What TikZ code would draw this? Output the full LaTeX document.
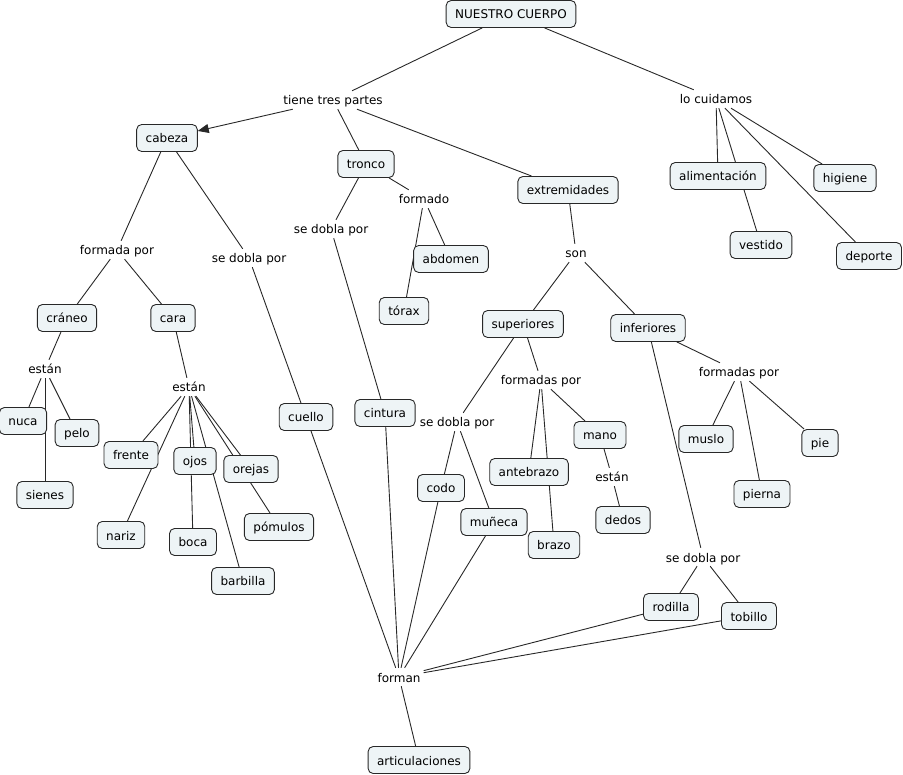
\documentclass[tikz,border=0pt]{standalone}
\usepackage{fontspec}
\setmainfont{DejaVu Sans}
\usetikzlibrary{arrows.meta,backgrounds}
\definecolor{CmapFill}{RGB}{238,244,246}
\definecolor{CmapLine}{RGB}{40,40,40}

\begin{document}
\begin{tikzpicture}[x=1pt, y=-1pt, font=\fontsize{12}{14}\selectfont,
  concept/.style={draw=CmapLine, fill=CmapFill, rounded corners=5pt, line width=0.9pt,
    inner xsep=9pt, inner ysep=0pt, minimum height=27pt, text height=11pt, text depth=1pt},
  linkph/.style={inner sep=3pt, text height=11pt, text depth=1pt},
  link/.style={CmapLine, line width=0.9pt}]
  \useasboundingbox (0,0) rectangle (903,775);

  % Main concept and first links
  \node[concept] (nc) at (511,14) {NUESTRO CUERPO};
  \node[linkph] (tiene) at (333,100) {tiene tres partes};
  \node[linkph] (cuidamos) at (716,99) {lo cuidamos};

  % Care
  \node[concept] (aliment) at (718,176) {alimentación};
  \node[concept] (higiene) at (845,178) {higiene};
  \node[concept] (vestido) at (761,245) {vestido};
  \node[concept] (deporte) at (869,256) {deporte};

  % Head
  \node[concept] (cabeza) at (167,138) {cabeza};
  \node[linkph] (formadaC) at (117,250) {formada por};
  \node[linkph] (doblaC) at (249,258) {se dobla por};
  \node[concept] (craneo) at (67,318) {cráneo};
  \node[concept] (cara) at (173,318) {cara};
  \node[linkph] (estanCr) at (45,369) {están};
  \node[linkph] (estanCa) at (189,387) {están};
  \node[concept] (nuca) at (23,421) {nuca};
  \node[concept] (pelo) at (77,433) {pelo};
  \node[concept] (sienes) at (45,495) {sienes};
  \node[concept] (frente) at (131,455) {frente};
  \node[concept] (ojos) at (195,461) {ojos};
  \node[concept] (orejas) at (251,469) {orejas};
  \node[concept] (nariz) at (121,535) {nariz};
  \node[concept] (boca) at (193,542) {boca};
  \node[concept] (pomulos) at (279,527) {pómulos};
  \node[concept] (barbilla) at (243,581) {barbilla};
  \node[concept] (cuello) at (306,417) {cuello};

  % Trunk
  \node[concept] (tronco) at (366,164) {tronco};
  \node[linkph] (formado) at (424,199) {formado};
  \node[linkph] (doblaT) at (331,229) {se dobla por};
  \node[concept] (abdomen) at (451,259) {abdomen};
  \node[concept] (torax) at (404,311) {tórax};
  \node[concept] (cintura) at (385,413) {cintura};

  % Limbs
  \node[concept] (extrem) at (568,190) {extremidades};
  \node[linkph] (son) at (576,253) {son};
  \node[concept] (superiores) at (523,324) {superiores};
  \node[concept] (inferiores) at (648,328) {inferiores};
  \node[linkph] (doblaS) at (457,422) {se dobla por};
  \node[linkph] (formadasS) at (541,380) {formadas por};
  \node[concept] (codo) at (441,488) {codo};
  \node[concept] (muneca) at (494,522) {muñeca};
  \node[concept] (antebrazo) at (529,472) {antebrazo};
  \node[concept] (brazo) at (554,545) {brazo};
  \node[concept] (mano) at (600,435) {mano};
  \node[linkph] (estanMa) at (612,477) {están};
  \node[concept] (dedos) at (623,520) {dedos};
  \node[linkph] (formadasI) at (739,372) {formadas por};
  \node[concept] (muslo) at (706,439) {muslo};
  \node[concept] (pie) at (820,443) {pie};
  \node[concept] (pierna) at (762,494) {pierna};
  \node[linkph] (doblaI) at (703,557) {se dobla por};
  \node[concept] (rodilla) at (671,607) {rodilla};
  \node[concept] (tobillo) at (749,616) {tobillo};

  % Joints
  \node[linkph] (forman) at (399,677) {forman};
  \node[concept] (articul) at (419,760) {articulaciones};

  % Connectors (behind the boxes)
  \begin{pgfonlayer}{background}
    \foreach \a/\b in {nc/tiene, nc/cuidamos, tiene/tronco, tiene/extrem,
      cuidamos/aliment, cuidamos/vestido, cuidamos/deporte, cuidamos/higiene,
      cabeza/formadaC, cabeza/doblaC, formadaC/craneo, formadaC/cara,
      craneo/estanCr, estanCr/nuca, estanCr/pelo, estanCr/sienes,
      cara/estanCa, estanCa/frente, estanCa/nariz, estanCa/ojos, estanCa/boca,
      estanCa/barbilla, estanCa/orejas, estanCa/pomulos,
      doblaC/cuello, cuello/forman,
      tronco/doblaT, tronco/formado, doblaT/cintura, cintura/forman,
      formado/abdomen, formado/torax,
      extrem/son, son/superiores, son/inferiores,
      superiores/doblaS, superiores/formadasS, doblaS/codo, doblaS/muneca,
      codo/forman, muneca/forman,
      formadasS/antebrazo, formadasS/brazo, formadasS/mano, mano/estanMa, estanMa/dedos,
      inferiores/formadasI, inferiores/doblaI,
      formadasI/muslo, formadasI/pierna, formadasI/pie,
      doblaI/rodilla, doblaI/tobillo, rodilla/forman, tobillo/forman,
      forman/articul}
      \draw[link] (\a) -- (\b);
  \end{pgfonlayer}

  % The only arrow
  \draw[link, -{Triangle[length=11pt, width=9pt]}] (tiene) -- (cabeza);
\end{tikzpicture}
\end{document}
